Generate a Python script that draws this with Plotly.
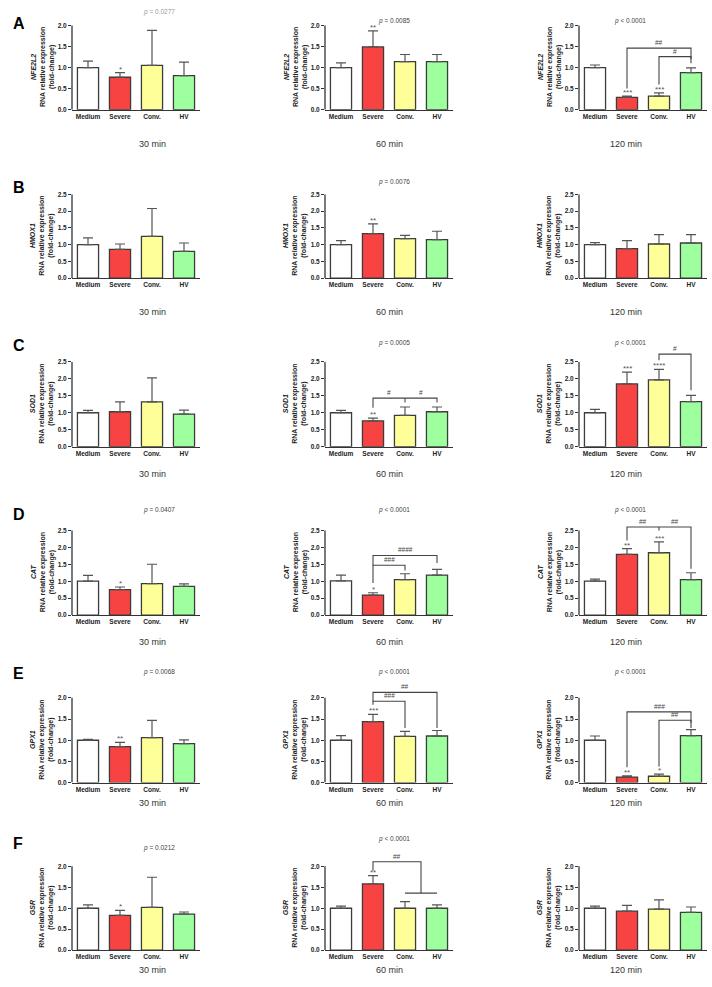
import plotly.graph_objects as go
from plotly.subplots import make_subplots

W, H = 712, 987
FONT = "Arial, Liberation Sans, sans-serif"
AXC = "#333333"

categories = ["Medium", "Severe", "Conv.", "HV"]
genes = ["NFE2L2", "HMOX1", "SOD1", "CAT", "GPX1", "GSR"]
panel_letters = ["A", "B", "C", "D", "E", "F"]
times = ["30 min", "60 min", "120 min"]
y_max = [2.0, 2.5, 2.5, 2.5, 2.0, 2.0]
bar_colors = ["#FFFFFF", "#F84343", "#FFFF99", "#9DFF9D"]

# mean fold-change [time][group] per gene
nfe2l2_mean = [[1.00, 0.77, 1.05, 0.81], [1.00, 1.49, 1.14, 1.14], [1.00, 0.29, 0.32, 0.88]]
nfe2l2_sd = [[0.15, 0.11, 0.83, 0.32], [0.11, 0.38, 0.17, 0.17], [0.06, 0.03, 0.08, 0.11]]
hmox1_mean = [[1.00, 0.86, 1.25, 0.80], [1.00, 1.33, 1.18, 1.15], [1.00, 0.88, 1.02, 1.05]]
hmox1_sd = [[0.20, 0.16, 0.83, 0.25], [0.12, 0.29, 0.10, 0.25], [0.06, 0.24, 0.28, 0.25]]
sod1_mean = [[1.00, 1.03, 1.32, 0.96], [1.00, 0.76, 0.92, 1.03], [1.00, 1.85, 1.97, 1.33]]
sod1_sd = [[0.07, 0.29, 0.71, 0.12], [0.07, 0.08, 0.25, 0.14], [0.10, 0.35, 0.31, 0.18]]
cat_mean = [[1.00, 0.75, 0.93, 0.85], [1.01, 0.59, 1.05, 1.18], [1.00, 1.79, 1.84, 1.05]]
cat_sd = [[0.17, 0.08, 0.57, 0.07], [0.17, 0.07, 0.17, 0.17], [0.06, 0.17, 0.32, 0.20]]
gpx1_mean = [[1.00, 0.85, 1.06, 0.92], [1.00, 1.44, 1.09, 1.10], [1.00, 0.13, 0.15, 1.11]]
gpx1_sd = [[0.02, 0.10, 0.41, 0.09], [0.11, 0.17, 0.12, 0.13], [0.10, 0.03, 0.05, 0.14]]
gsr_mean = [[1.00, 0.83, 1.02, 0.86], [1.00, 1.58, 1.00, 1.00], [1.00, 0.93, 0.98, 0.90]]
gsr_sd = [[0.08, 0.12, 0.72, 0.05], [0.05, 0.20, 0.16, 0.08], [0.05, 0.14, 0.22, 0.13]]

means = [nfe2l2_mean, hmox1_mean, sod1_mean, cat_mean, gpx1_mean, gsr_mean]
sds = [nfe2l2_sd, hmox1_sd, sod1_sd, cat_sd, gpx1_sd, gsr_sd]

# significance vs Medium
stars = [
    [["", "*", "", ""], ["", "**", "", ""], ["", "***", "***", ""]],
    [["", "", "", ""], ["", "**", "", ""], ["", "", "", ""]],
    [["", "", "", ""], ["", "**", "", ""], ["", "***", "****", ""]],
    [["", "*", "", ""], ["", "*", "", ""], ["", "**", "***", ""]],
    [["", "**", "", ""], ["", "***", "", ""], ["", "**", "*", ""]],
    [["", "*", "", ""], ["", "**", "", ""], ["", "", "", ""]],
]

p_values = [
    ["<i>p</i> = 0.0277", "<i>p</i> = 0.0085", "<i>p</i> < 0.0001"],
    ["", "<i>p</i> = 0.0076", ""],
    ["", "<i>p</i> = 0.0005", "<i>p</i> < 0.0001"],
    ["<i>p</i> = 0.0407", "<i>p</i> < 0.0001", "<i>p</i> < 0.0001"],
    ["<i>p</i> = 0.0068", "<i>p</i> < 0.0001", "<i>p</i> < 0.0001"],
    ["<i>p</i> = 0.0212", "<i>p</i> < 0.0001", ""],
]
p_colors = [["#9a9a9a", "#444", "#444"]] + [["#444", "#444", "#444"]] * 5
p_y_px = [[6, 14.7, 15], [177, 177, 177], [344, 344, 344], [512, 512, 512], [680, 680, 680], [857, 848, 848]]

# bracket comparisons: (row, col, polyline in (group index, value), label, label x, label y)
brackets = [
    (0, 2, [(1, 0.50), (1, 1.46), (3, 1.46), (3, 1.20)], "##", 2.0, 1.46),
    (0, 2, [(2, 0.60), (2, 1.26), (3, 1.26), (3, 1.10)], "#", 2.5, 1.26),
    (2, 1, [(1, 1.15), (1, 1.43), (3, 1.43), (3, 1.30)], "#", 1.5, 1.43),
    (2, 1, [(2, 1.43), (2, 1.30)], "#", 2.5, 1.43),
    (2, 2, [(2, 2.55), (2, 2.73), (3, 2.73), (3, 1.66)], "#", 2.5, 2.73),
    (3, 1, [(1, 0.95), (1, 1.47), (2, 1.47), (2, 1.32)], "###", 1.5, 1.47),
    (3, 1, [(1, 1.47), (1, 1.76), (3, 1.76), (3, 1.54)], "####", 2.0, 1.76),
    (3, 2, [(1, 2.20), (1, 2.60), (3, 2.60), (3, 1.37)], "##", 1.5, 2.60),
    (3, 2, [(2, 2.60), (2, 2.50)], "##", 2.5, 2.60),
    (4, 1, [(1, 1.84), (1, 1.92), (2, 1.92), (2, 1.29)], "###", 1.5, 1.92),
    (4, 1, [(1, 1.92), (1, 2.13), (3, 2.13), (3, 1.29)], "##", 2.0, 2.13),
    (4, 2, [(1, 0.36), (1, 1.67), (3, 1.67), (3, 1.41)], "###", 2.0, 1.67),
    (4, 2, [(2, 0.38), (2, 1.47), (3, 1.47), (3, 1.29)], "##", 2.5, 1.47),
    (5, 1, [(1, 1.90), (1, 2.11), (2.5, 2.11), (2.5, 1.36)], "##", 1.75, 2.11),
    (5, 1, [(2, 1.36), (3, 1.36)], "", None, None),
]

# layout geometry (pixels)
col_first_center = [88, 341, 595]
row_top = [25.5, 195, 363, 532, 700, 869]
row_bottom = [110, 279, 448, 617, 785, 953]
letter_y = [13, 178, 347, 516, 686, 857]
EXT = 1.2

fig = make_subplots(rows=6, cols=3)
annotations = []
shapes = []


def px(x):
    return x / W


def py(y):
    return 1 - y / H


for r in range(6):
    ymax = y_max[r]
    b, t = row_bottom[r], row_top[r]
    top_dom = b - EXT * (b - t)
    for c in range(3):
        n = r * 3 + c + 1
        sfx = "" if n == 1 else str(n)
        left = col_first_center[c] - 16
        right = left + 128
        fig.add_trace(go.Bar(
            x=list(range(4)), y=means[r][c], width=0.66,
            marker=dict(color=bar_colors, line=dict(color="#3c3c3c", width=1.3)),
            error_y=dict(type="data", array=sds[r][c], arrayminus=[0] * 4, symmetric=False,
                         color="#555555", thickness=1.2, width=5),
            showlegend=False, hoverinfo="skip"), row=r + 1, col=c + 1)
        ticks = [i * 0.5 for i in range(int(ymax / 0.5) + 1)]
        fig.update_layout({
            f"xaxis{sfx}": dict(domain=[px(left), px(right)], range=[-0.5, 3.5],
                                tickvals=list(range(4)),
                                ticktext=[f"<b>{cat}</b>" for cat in categories],
                                showline=True, linecolor=AXC, linewidth=1.3, ticks="",
                                showgrid=False, zeroline=False, fixedrange=True,
                                tickfont=dict(family=FONT, size=6.5, color="#222"),
                                anchor=f"y{sfx}"),
            f"yaxis{sfx}": dict(domain=[py(b), py(top_dom)], range=[0, ymax * EXT],
                                tickvals=ticks, ticktext=[f"<b>{v:.1f}</b>" for v in ticks],
                                showline=False, ticks="outside", ticklen=3, tickwidth=1.2,
                                tickcolor=AXC, showgrid=False, zeroline=False,
                                tickfont=dict(family=FONT, size=6.5, color="#222"),
                                anchor=f"x{sfx}"),
        })
        # y axis line up to axis max
        shapes.append(dict(type="line", xref=f"x{sfx} domain", yref=f"y{sfx}",
                           x0=0, x1=0, y0=0, y1=ymax, line=dict(color=AXC, width=1.3)))
        # stars
        for g in range(4):
            s = stars[r][c][g]
            if s:
                annotations.append(dict(x=g, y=means[r][c][g] + sds[r][c][g], xref=f"x{sfx}",
                                        yref=f"y{sfx}", text=s, showarrow=False, yanchor="bottom",
                                        yshift=-3, font=dict(family=FONT, size=8, color="#555")))
        # y title
        annotations.append(dict(x=px(left - 29.5), y=py((t + b) / 2), xref="paper", yref="paper",
                                text=f"<b><i>{genes[r]}</i><br>RNA relative expression<br>(fold-change)</b>",
                                textangle=-90, showarrow=False, xanchor="center", yanchor="middle",
                                font=dict(family=FONT, size=7, color="#222")))
        # time label
        annotations.append(dict(x=px(col_first_center[c] + 48.5), y=py(b + 27), xref="paper",
                                yref="paper", text=times[c], showarrow=False,
                                font=dict(family=FONT, size=9, color="#333")))
        # p value
        if p_values[r][c]:
            annotations.append(dict(x=px(col_first_center[c] + 53), y=py(p_y_px[r][c]),
                                    xref="paper", yref="paper", text=p_values[r][c],
                                    showarrow=False,
                                    font=dict(family=FONT, size=6.5, color=p_colors[r][c])))
    annotations.append(dict(x=px(11), y=py(letter_y[r]), xref="paper", yref="paper",
                            text=f"<b>{panel_letters[r]}</b>", showarrow=False,
                            font=dict(family=FONT, size=16, color="#000")))

for (r, c, pts, lab, lx, ly) in brackets:
    n = r * 3 + c + 1
    sfx = "" if n == 1 else str(n)
    path = "M " + " L ".join(f"{x},{y}" for x, y in pts)
    shapes.append(dict(type="path", path=path, xref=f"x{sfx}", yref=f"y{sfx}",
                       line=dict(color="#444", width=1.1)))
    if lab:
        annotations.append(dict(x=lx, y=ly, xref=f"x{sfx}", yref=f"y{sfx}", text=lab,
                                showarrow=False, yanchor="bottom", yshift=0,
                                font=dict(family=FONT, size=6.5, color="#444")))

fig.update_layout(width=W, height=H, margin=dict(l=0, r=0, t=0, b=0),
                  plot_bgcolor="white", paper_bgcolor="white",
                  annotations=annotations, shapes=shapes, bargap=0.3,
                  font=dict(family=FONT))
fig.write_html("out.html")
